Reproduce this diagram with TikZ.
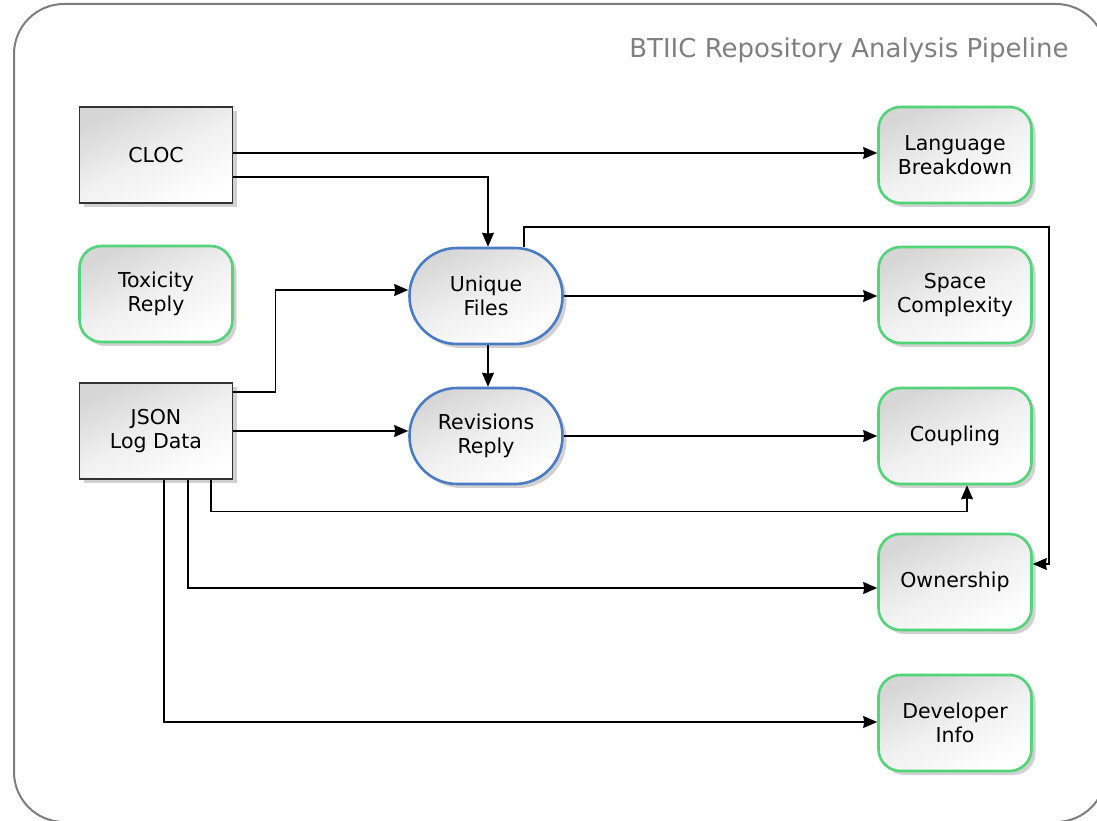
\documentclass[tikz,border=0pt]{standalone}
\usepackage{fontspec}
\setmainfont{DejaVu Sans}
\usetikzlibrary{arrows.meta,shadows,calc}
\definecolor{grn}{RGB}{82,212,120}
\definecolor{blu}{RGB}{74,124,196}
\definecolor{frm}{RGB}{125,125,125}
\definecolor{ttl}{RGB}{128,128,128}
\tikzset{
  basebox/.style={minimum width=153pt, minimum height=96pt, align=center,
    font=\fontsize{20.5}{23.5}\selectfont, inner sep=2pt,
    top color=black!16, bottom color=white, middle color=black!6, shading angle=25,
    drop shadow={shadow xshift=4pt, shadow yshift=-4pt, fill=black!18, opacity=1}},
  srcbox/.style={basebox, draw=black!80, line width=1.4pt},
  outbox/.style={basebox, draw=grn, line width=2.6pt, rounded corners=22pt},
  procbox/.style={basebox, draw=blu, line width=2.6pt, rounded corners=47.5pt},
  conn/.style={draw=black, line width=1.2pt, -{Stealth[length=14pt,width=12pt,inset=1pt]}}
}
\begin{document}
\begin{tikzpicture}[x=1pt,y=1pt]
\useasboundingbox (0,0) rectangle (1097,820);
\draw[frm, line width=2pt, rounded corners=50pt] (14,-2) rectangle (1106,816);
\node[anchor=east, text=ttl, font=\fontsize{26}{31}\selectfont] (title) at (1072,770) {BTIIC Repository Analysis Pipeline};

\node[srcbox] (cloc) at (156,665) {CLOC};
\node[outbox] (tox) at (156,526) {Toxicity\\Reply};
\node[srcbox] (json) at (156,389) {JSON\\Log Data};
\node[procbox] (uniq) at (486,524) {Unique\\Files};
\node[procbox] (rev) at (486,384) {Revisions\\Reply};
\node[outbox] (lang) at (955,665) {Language\\Breakdown};
\node[outbox] (space) at (955,525) {Space\\Complexity};
\node[outbox] (coup) at (955,384) {Coupling};
\node[outbox] (own) at (955,238) {Ownership};
\node[outbox] (dev) at (955,97) {Developer\\Info};

\coordinate (r1) at (1049,593);

\draw[conn] ([yshift=2pt]cloc.east) -- ([yshift=2pt]lang.west);
\draw[conn] ([yshift=-22pt]cloc.east) -| ([xshift=2pt]uniq.north);
\draw[conn] (uniq.east) -- (uniq.east -| space.west);
\draw[conn] ([xshift=38pt]uniq.north) |- (r1) |- ([yshift=18pt]own.east);
\draw[conn] ([yshift=39pt]json.east) -- ++(42,0) |- ([yshift=6pt]uniq.west);
\draw[conn] (json.east) -- (json.east -| rev.west);
\draw[conn] ([xshift=2pt]uniq.south) -- ([xshift=2pt]rev.north);
\draw[conn] (rev.east) -- (coup.west);
\draw[conn] ([xshift=55pt]json.south) -- ++(0,-32) -| ([xshift=12pt]coup.south);
\draw[conn] ([xshift=32pt]json.south) |- ([yshift=-6pt]own.west);
\draw[conn] ([xshift=8pt]json.south) |- ([yshift=1pt]dev.west);
\end{tikzpicture}
\end{document}
